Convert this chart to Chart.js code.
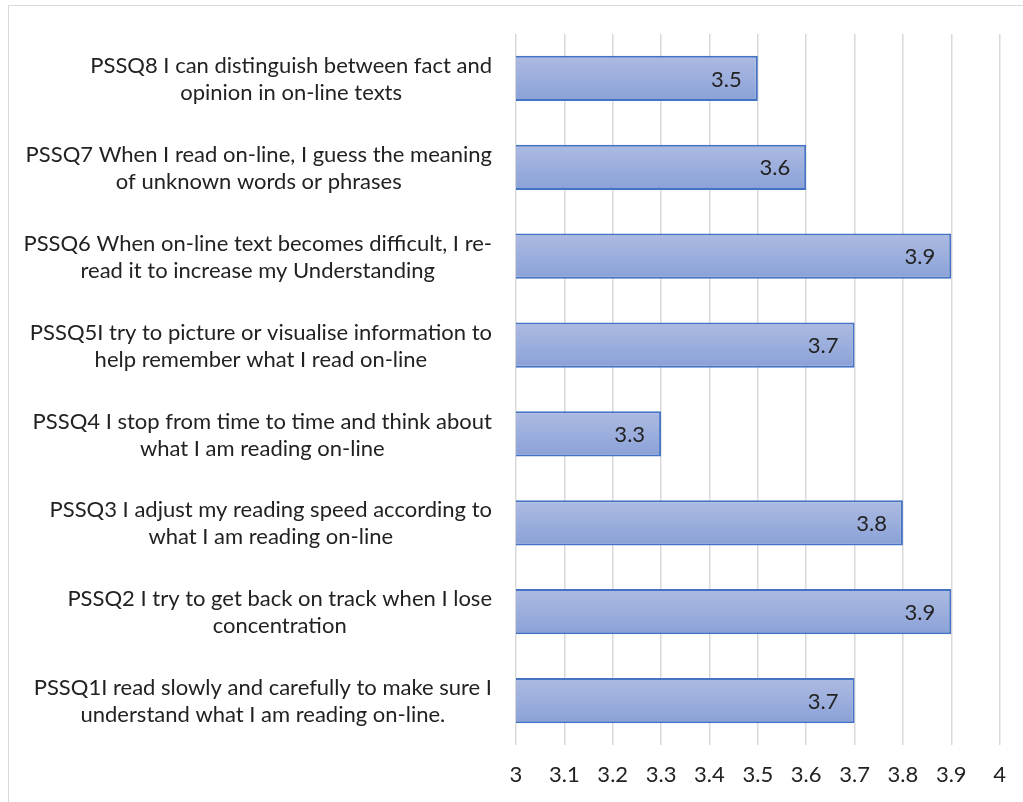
<!DOCTYPE html>
<html>
<head>
<meta charset="utf-8">
<script src="https://cdn.jsdelivr.net/npm/chart.js@4.4.1/dist/chart.umd.min.js"></script>
<style>
  html, body { margin: 0; padding: 0; background: #fff; overflow: hidden; }
  #frame { position: absolute; left: 8px; top: 5px; width: 1100px; height: 900px; border: 1px solid #d9d9d9; }
  #chart { position: absolute; left: 0; top: 0; }
</style>
</head>
<body>
<div id="frame"></div>
<canvas id="chart" width="1023" height="802"></canvas>
<script>
// categories bottom -> top, as in the original sheet
const questions = [
  ["PSSQ1I read slowly and carefully to make sure I", "understand what I am reading on-line."],
  ["PSSQ2 I try to get back on track when I lose", "concentration"],
  ["PSSQ3 I adjust my reading speed according to", "what I am reading on-line"],
  ["PSSQ4 I stop from time to time and think about", "what I am reading on-line"],
  ["PSSQ5I try to picture or visualise information to", "help remember what I read on-line"],
  ["PSSQ6 When on-line text becomes difficult, I re-", "read it to increase my Understanding"],
  ["PSSQ7 When I read on-line, I guess the meaning", "of unknown words or phrases"],
  ["PSSQ8 I can distinguish between fact and", "opinion in on-line texts"]
];
const meanScores = [3.7, 3.9, 3.8, 3.3, 3.7, 3.9, 3.6, 3.5];
const tickLabels = ["3", "3.1", "3.2", "3.3", "3.4", "3.5", "3.6", "3.7", "3.8", "3.9", "4"];

const FONT = "Lato, 'Open Sans', sans-serif";
const TEXT = "#222222";

function barGradient(context) {
  const chart = context.chart;
  const y = chart.scales.y;
  const fallback = "#9aaddc";
  if (!chart.chartArea || !y || context.dataIndex === undefined) return fallback;
  const mid = y.getPixelForValue(context.dataIndex);
  if (!isFinite(mid)) return fallback;
  const half = 23;
  const g = chart.ctx.createLinearGradient(0, mid - half, 0, mid + half);
  g.addColorStop(0, "#adbbe2");
  g.addColorStop(1, "#8aa1d7");
  return g;
}

// wrapped category labels: lines centred on each other, block right-aligned
const categoryLabels = {
  id: "categoryLabels",
  afterDraw(chart) {
    const ctx = chart.ctx;
    const y = chart.scales.y;
    const right = 492;
    const lh = 27;
    ctx.save();
    ctx.font = "22px " + FONT;
    ctx.fillStyle = TEXT;
    ctx.textAlign = "center";
    ctx.textBaseline = "middle";
    questions.forEach(function (lines, i) {
      const cy = y.getPixelForValue(i) + 1;
      const w = Math.max.apply(null, lines.map(function (l) { return ctx.measureText(l).width; }));
      const cx = right - w / 2;
      const top = cy - (lines.length - 1) * lh / 2;
      lines.forEach(function (l, k) {
        ctx.fillText(l, cx, top + k * lh);
      });
    });
    ctx.restore();
  }
};

// value labels at the inside end of each bar
const valueLabels = {
  id: "valueLabels",
  afterDatasetsDraw(chart) {
    const ctx = chart.ctx;
    const meta = chart.getDatasetMeta(0);
    ctx.save();
    ctx.font = "22px " + FONT;
    ctx.fillStyle = TEXT;
    ctx.textAlign = "right";
    ctx.textBaseline = "middle";
    meta.data.forEach(function (bar, i) {
      ctx.fillText(String(meanScores[i]), bar.x - 16, bar.y + 1);
    });
    ctx.restore();
  }
};

new Chart(document.getElementById("chart"), {
  type: "bar",
  data: {
    labels: questions.map(function (q) { return q.join(" "); }),
    datasets: [{
      data: meanScores,
      backgroundColor: barGradient,
      borderColor: "#4472c4",
      borderWidth: 2,
      borderSkipped: false,
      barPercentage: 0.51,
      categoryPercentage: 1
    }]
  },
  options: {
    indexAxis: "y",
    responsive: false,
    animation: false,
    layout: { padding: { top: 34, right: 18, bottom: 0, left: 0 } },
    plugins: {
      legend: { display: false },
      tooltip: { enabled: false }
    },
    scales: {
      x: {
        min: 3,
        max: 4,
        ticks: {
          stepSize: 0.1,
          padding: 17,
          color: TEXT,
          font: { family: FONT, size: 22 },
          maxRotation: 0,
          autoSkip: false,
          callback: function (value, index) { return tickLabels[index]; }
        },
        grid: { color: "#d9d9d9", lineWidth: 1.5, drawTicks: false },
        border: { display: false },
        afterFit: function (scale) { scale.height = 57; }
      },
      y: {
        reverse: true,
        ticks: { display: false },
        grid: { display: false },
        border: { display: false },
        afterFit: function (scale) { scale.width = 516; }
      }
    }
  },
  plugins: [categoryLabels, valueLabels]
});
</script>
</body>
</html>
